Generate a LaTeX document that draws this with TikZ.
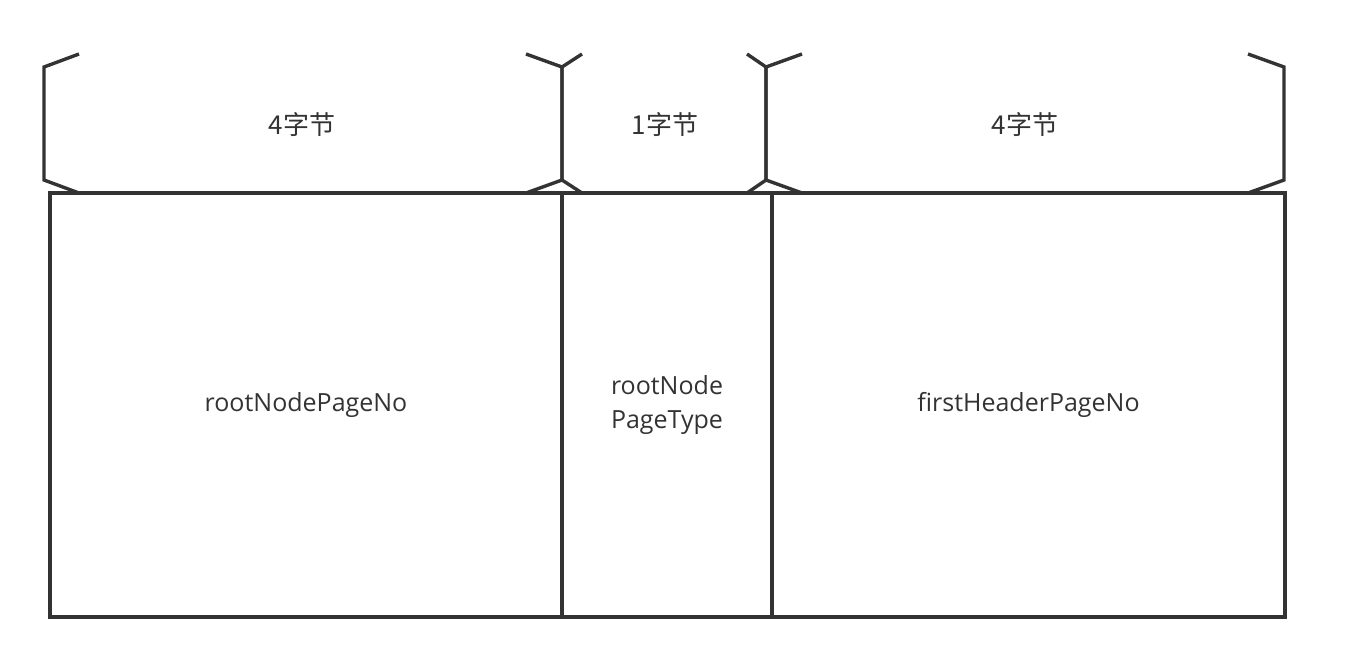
\documentclass[tikz,border=0pt]{standalone}
\usepackage{fontspec}
\setmainfont{Open Sans}
\newfontfamily\cjk{Noto Sans CJK SC}
\usepackage{tikz}
\definecolor{ink}{HTML}{333333}

\begin{document}
\begin{tikzpicture}[x=0.5pt,y=-0.5pt,line join=miter]
\useasboundingbox (0,0) rectangle (1352,666);
\begin{scope}[every node/.style={rectangle,draw=ink,line width=1.7pt,text=ink,
              font=\fontsize{12.5}{17}\selectfont,align=center,
              minimum height=212pt,inner sep=0pt}]
    \node (rootNo)[minimum width=256pt] at (306,405) {rootNodePageNo};
    \node (rootType)[minimum width=105pt] at (667,405) {rootNode\\PageType};
    \node (firstHdr)[minimum width=256.5pt] at (1028.5,405) {firstHeaderPageNo};
\end{scope}

\begin{scope}[every path/.style={draw=ink,line width=1.7pt},
              every node/.style={text=ink,font=\cjk\fontsize{13}{16}\selectfont}]
    % 4 bytes
    \draw (79,54) -- (44,67) -- (44,180) -- (79,193);
    \draw (526,54) -- (562,67) -- (562,180) -- (526,193);
    \node (sizeNo) at (302,125) {4字节};
    % 1 byte
    \draw (582,54) -- (562,67) -- (562,180) -- (582,193);
    \draw (747,54) -- (766,67) -- (766,180) -- (747,193);
    \node (sizeType) at (665,125) {1字节};
    % 4 bytes
    \draw (802,54) -- (766,67) -- (766,180) -- (802,193);
    \draw (1248,54) -- (1284,67) -- (1284,180) -- (1248,193);
    \node (sizeHdr) at (1025,125) {4字节};
\end{scope}
\end{tikzpicture}
\end{document}
